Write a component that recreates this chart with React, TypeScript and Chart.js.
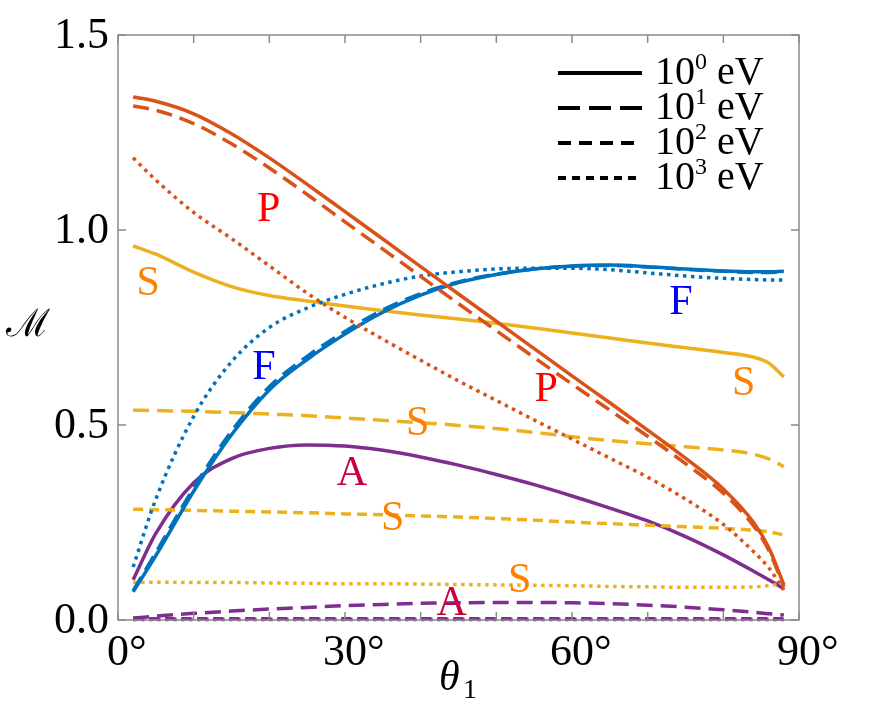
import React, { useEffect, useRef } from "react";
import { Chart, registerables } from "chart.js";

Chart.register(...registerables);

// ---------- data ----------
const angles = [2, 5, 10, 15, 20, 25, 30, 35, 40, 45, 50, 55, 60, 65, 70, 75, 80, 84, 86, 88];

const P_1eV = [1.341, 1.33, 1.298, 1.247, 1.185, 1.117, 1.047, 0.977, 0.906, 0.836, 0.766, 0.696, 0.626, 0.557, 0.487, 0.415, 0.336, 0.25, 0.186, 0.09];
const P_10eV = [1.318, 1.307, 1.273, 1.221, 1.159, 1.091, 1.021, 0.951, 0.881, 0.811, 0.742, 0.673, 0.605, 0.538, 0.471, 0.401, 0.325, 0.241, 0.179, 0.085];
const P_1000eV = [1.185, 1.128, 1.045, 0.978, 0.908, 0.838, 0.776, 0.72, 0.666, 0.613, 0.563, 0.513, 0.464, 0.415, 0.366, 0.31, 0.245, 0.175, 0.134, 0.077];

const F_1eV = [0.072, 0.165, 0.33, 0.475, 0.59, 0.668, 0.733, 0.789, 0.833, 0.865, 0.886, 0.9, 0.908, 0.91, 0.906, 0.9, 0.895, 0.893, 0.893, 0.894];
const F_10eV = [0.075, 0.173, 0.339, 0.484, 0.598, 0.676, 0.74, 0.795, 0.837, 0.867, 0.887, 0.9, 0.907, 0.909, 0.905, 0.899, 0.894, 0.891, 0.891, 0.892];
const F_1000eV = [0.136, 0.31, 0.522, 0.662, 0.75, 0.8, 0.835, 0.862, 0.882, 0.893, 0.9, 0.902, 0.902, 0.898, 0.89, 0.882, 0.876, 0.873, 0.872, 0.872];

const S_1eV = [0.959, 0.938, 0.892, 0.855, 0.832, 0.818, 0.805, 0.793, 0.782, 0.772, 0.761, 0.749, 0.736, 0.723, 0.71, 0.698, 0.686, 0.674, 0.659, 0.623];
const S_10eV = [0.538, 0.537, 0.535, 0.532, 0.528, 0.524, 0.518, 0.512, 0.506, 0.499, 0.491, 0.481, 0.47, 0.46, 0.452, 0.444, 0.436, 0.425, 0.413, 0.393];
const S_100eV = [0.284, 0.283, 0.281, 0.279, 0.277, 0.275, 0.272, 0.27, 0.267, 0.264, 0.26, 0.256, 0.251, 0.247, 0.243, 0.239, 0.235, 0.23, 0.226, 0.218];
const S_1000eV = [0.097, 0.097, 0.096, 0.096, 0.095, 0.094, 0.093, 0.093, 0.092, 0.091, 0.09, 0.089, 0.088, 0.086, 0.085, 0.084, 0.084, 0.085, 0.088, 0.094];

const A_1eV = [0.103, 0.222, 0.352, 0.414, 0.44, 0.449, 0.446, 0.435, 0.418, 0.397, 0.373, 0.347, 0.318, 0.287, 0.254, 0.214, 0.167, 0.125, 0.103, 0.08];
const A_10eV = [0.005, 0.01, 0.017, 0.023, 0.028, 0.032, 0.037, 0.04, 0.043, 0.044, 0.045, 0.045, 0.044, 0.042, 0.038, 0.033, 0.026, 0.02, 0.016, 0.013];
const A_100eV = [0.003, 0.003, 0.003, 0.003, 0.003, 0.003, 0.003, 0.003, 0.003, 0.003, 0.003, 0.003, 0.003, 0.003, 0.003, 0.003, 0.003, 0.003, 0.003, 0.003];
const A_1000eV = [0.001, 0.001, 0.001, 0.001, 0.001, 0.001, 0.001, 0.001, 0.001, 0.001, 0.001, 0.001, 0.001, 0.001, 0.001, 0.001, 0.001, 0.001, 0.001, 0.001];

const energyExponents = ["0", "1", "2", "3"];
const xTickValues = [0, 10, 20, 30, 40, 50, 60, 70, 80, 90];
const xLabelValues = [0, 30, 60, 90];
const yTickValues = [0, 0.5, 1.0, 1.5];
const yTickLabels = ["0.0", "0.5", "1.0", "1.5"];

const modeTexts = ["P", "P", "S", "S", "S", "S", "S", "F", "F", "A", "A"];
const modeAngles = [19.9, 56.6, 4.0, 82.7, 39.6, 36.3, 53.1, 19.3, 74.4, 30.9, 44.1];
const modeValues = [1.054, 0.592, 0.864, 0.608, 0.505, 0.262, 0.103, 0.649, 0.815, 0.377, 0.044];

// ---------- styles ----------
const COL = { P: "#D95319", F: "#0072BD", S: "#EDB120", A: "#7E2F8E" };
const TXT = { P: "#FF0000", F: "#0000FF", S: "#FF8000", A: "#C8003C" };
const PLOT_DASH = [[], [16, 8], [10, 6], [3.5, 4.5]];
const LEGEND_DASH = [[], [22, 9], [13, 8], [8, 6]];
const SERIF = '"Liberation Serif", "Times New Roman", serif';

function series(mode: keyof typeof COL, energyIdx: number, vals: number[]) {
  return {
    label: mode + energyIdx,
    data: angles.map((a, i) => ({ x: a, y: vals[i] })),
    borderColor: COL[mode],
    borderWidth: 3.5,
    borderDash: PLOT_DASH[energyIdx],
    pointRadius: 0,
    fill: false,
    cubicInterpolationMode: "monotone" as const,
    clip: 4,
  };
}

const decorPlugin = {
  id: "decor",
  afterDraw(chart: any) {
    const { ctx, chartArea, scales } = chart;
    const xs = scales.x;
    const ys = scales.y;
    const { left, right, top, bottom } = chartArea;
    ctx.save();

    // frame
    ctx.strokeStyle = "#8a8a8a";
    ctx.lineWidth = 1.5;
    ctx.setLineDash([]);
    ctx.strokeRect(left, top, right - left, bottom - top);

    // inward ticks
    const tl = 8;
    ctx.beginPath();
    xTickValues.forEach((v) => {
      const px = xs.getPixelForValue(v);
      ctx.moveTo(px, bottom);
      ctx.lineTo(px, bottom - tl);
      ctx.moveTo(px, top);
      ctx.lineTo(px, top + tl);
    });
    yTickValues.forEach((v) => {
      const py = ys.getPixelForValue(v);
      ctx.moveTo(left, py);
      ctx.lineTo(left + tl, py);
      ctx.moveTo(right, py);
      ctx.lineTo(right - tl, py);
    });
    ctx.stroke();

    // tick labels
    ctx.fillStyle = "#000";
    ctx.font = `44px ${SERIF}`;
    ctx.textBaseline = "middle";
    ctx.textAlign = "right";
    yTickValues.forEach((v, i) => {
      ctx.fillText(yTickLabels[i], left - 9, ys.getPixelForValue(v) + 1);
    });
    ctx.textBaseline = "alphabetic";
    xLabelValues.forEach((v) => {
      const s = String(v);
      const w = ctx.measureText(s).width;
      const px = xs.getPixelForValue(v);
      ctx.textAlign = "left";
      ctx.fillText(s + "\u00B0", px - w / 2, bottom + 45);
    });

    // axis titles
    ctx.textAlign = "left";
    ctx.font = `italic 42px ${SERIF}`;
    ctx.fillText("\u03B8", 439, 690);
    ctx.font = `28px ${SERIF}`;
    ctx.fillText("1", 463, 698);
    ctx.font = `38px "DejaVu Serif", ${SERIF}`;
    ctx.textAlign = "center";
    ctx.textBaseline = "middle";
    ctx.fillText("\u2133", 28, 326);

    // mode labels
    ctx.font = `42px ${SERIF}`;
    modeTexts.forEach((t, i) => {
      ctx.fillStyle = (TXT as any)[t];
      ctx.fillText(t, xs.getPixelForValue(modeAngles[i]), ys.getPixelForValue(modeValues[i]) + 1);
    });

    // legend
    const lx0 = 558, lx1 = 642, ly0 = 73, dy = 35;
    energyExponents.forEach((e, i) => {
      const y = ly0 + i * dy;
      ctx.strokeStyle = "#000";
      ctx.lineWidth = 4;
      ctx.setLineDash(LEGEND_DASH[i]);
      ctx.beginPath();
      ctx.moveTo(lx0, y);
      ctx.lineTo(lx1, y);
      ctx.stroke();
      ctx.setLineDash([]);
      ctx.fillStyle = "#000";
      ctx.textAlign = "left";
      ctx.textBaseline = "alphabetic";
      ctx.font = `40px ${SERIF}`;
      const base = y + 11;
      ctx.fillText("10", 655, base);
      const w10 = ctx.measureText("10").width;
      ctx.font = `24px ${SERIF}`;
      ctx.fillText(e, 655 + w10, base - 15);
      const we = ctx.measureText(e).width;
      ctx.font = `40px ${SERIF}`;
      ctx.fillText("eV", 655 + w10 + we + 10, base);
    });

    ctx.restore();
  },
};

export default function App() {
  const ref = useRef<HTMLCanvasElement | null>(null);
  useEffect(() => {
    document.body.style.margin = "0";
    const canvas = ref.current;
    if (!canvas) return;
    const chart = new Chart(canvas, {
      type: "line",
      data: {
        datasets: [
          series("P", 0, P_1eV),
          series("P", 1, P_10eV),
          series("P", 3, P_1000eV),
          series("F", 0, F_1eV),
          series("F", 1, F_10eV),
          series("F", 3, F_1000eV),
          series("S", 0, S_1eV),
          series("S", 1, S_10eV),
          series("S", 2, S_100eV),
          series("S", 3, S_1000eV),
          series("A", 0, A_1eV),
          series("A", 1, A_10eV),
          series("A", 2, A_100eV),
          series("A", 3, A_1000eV),
        ] as any,
      },
      options: {
        responsive: false,
        animation: false,
        devicePixelRatio: 1,
        layout: { padding: { left: 118, right: 97, top: 35, bottom: 88 } },
        plugins: { legend: { display: false }, tooltip: { enabled: false } },
        scales: {
          x: { type: "linear", min: 0, max: 90, display: false },
          y: { type: "linear", min: 0, max: 1.5, display: false },
        },
      },
      plugins: [decorPlugin],
    });
    return () => chart.destroy();
  }, []);
  return (
    <div style={{ position: "absolute", left: 0, top: 0, width: 896, height: 708, background: "#fff" }}>
      <canvas ref={ref} width={896} height={708} style={{ display: "block" }} />
    </div>
  );
}
